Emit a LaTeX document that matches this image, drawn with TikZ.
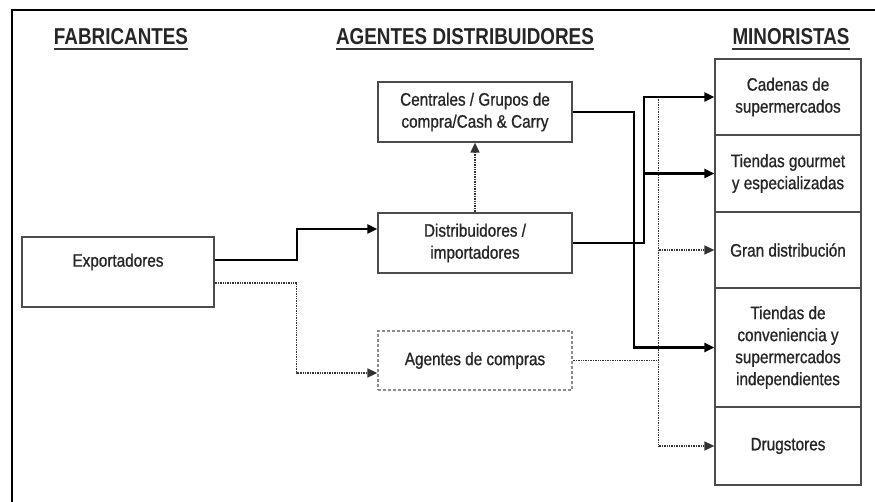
\documentclass[tikz,border=0pt]{standalone}
\usepackage{fontspec}
\setmainfont{Liberation Sans}[FakeStretch=0.85,UprightFeatures={FakeBold=0.9}]
\newfontfamily\headfont{Liberation Sans}[FakeStretch=0.82,BoldFont={Liberation Sans Bold}]
\usetikzlibrary{arrows.meta}
\begin{document}
\begin{tikzpicture}[x=1pt,y=-1pt,
  box/.style={draw=black!70, line width=1.3pt, fill=white, align=center, inner sep=2pt,
              font=\fontsize{18}{22}\selectfont, text=black!85},
  dbox/.style={box, draw=black!45, dash pattern=on 3pt off 2pt},
  txt/.style={font=\fontsize{18}{22}\selectfont, text=black!85},
  head/.style={anchor=base, inner sep=0pt, font=\headfont\bfseries\fontsize{23}{26}\selectfont, text=black!85},
  uline/.style={line width=1.8pt, draw=black!80},
  flow/.style={line width=2.1pt, -{Triangle[length=10pt,width=9pt]}},
  dotl/.style={line width=1.5pt, draw=black!80, dash pattern=on 1pt off 0.7pt},
  dota/.style={dotl, -{Triangle[length=10pt,width=9pt]}},
]
\useasboundingbox (0,0) rectangle (875,502);
\draw[line width=2pt] (12,515) -- (12,10) -- (890,10);

% headers
\node[head] (hfab) at (121,45) {FABRICANTES};
\node[head] (hage) at (465,45) {AGENTES DISTRIBUIDORES};
\node[head] (hmin) at (791,45) {MINORISTAS};
\foreach \h in {hfab,hage,hmin}
  \draw[uline] ([yshift=-4pt]\h.base west) -- ([yshift=-4pt]\h.base east);

% left / middle boxes
\node[box, minimum width=192pt, minimum height=70pt] (exp) at (118,272) {};
\node[txt] (exptxt) at (118,262) {Exportadores};
\node[box, minimum width=194pt, minimum height=60pt] (cen) at (475,112) {Centrales / Grupos de\\compra/Cash \& Carry};
\node[box, minimum width=194pt, minimum height=60pt] (dist) at (475,243) {Distribuidores /\\importadores};
\node[dbox, minimum width=194pt, minimum height=59pt] (ag) at (475,360.5) {Agentes de compras};

% right column
\node[box, minimum width=146pt, minimum height=76pt] (cad) at (788,97) {Cadenas de\\supermercados};
\node[box, minimum width=146pt, minimum height=77pt] (gour) at (788,173.5) {Tiendas gourmet\\y especializadas};
\node[box, minimum width=146pt, minimum height=76pt] (gran) at (788,250) {Gran distribución};
\node[box, minimum width=146pt, minimum height=119pt] (conv) at (788,347.5) {Tiendas de\\conveniencia y\\supermercados\\independientes};
\node[box, minimum width=146pt, minimum height=78pt] (drug) at (788,446) {Drugstores};

% dotted connectors
\draw[dota] (dist.north) -- (cen.south);
\draw[dota] ([yshift=-11pt]exp.east) -- ++(82,0) |- ([yshift=-12.5pt]ag.west);
\draw[dotl] (ag.east) -- ++(86,0) coordinate (j2);
\draw[dotl] (j2 |- cad.west) -- (j2 |- drug.west);
\draw[dota] (j2 |- gran.west) -- (gran.west);
\draw[dota] (j2 |- drug.west) -- (drug.west);

% solid connectors
\draw[flow] ([yshift=12pt]exp.east) -- ++(82,0) |- ([yshift=14pt]dist.west);
\draw[flow] (cen.east) -- ++(61,0) |- (conv.west);
\draw[flow] (dist.east) -- ++(71,0) coordinate (j1) |- (cad.west);
\draw[flow] (j1 |- gour.west) -- (gour.west);
\end{tikzpicture}
\end{document}
